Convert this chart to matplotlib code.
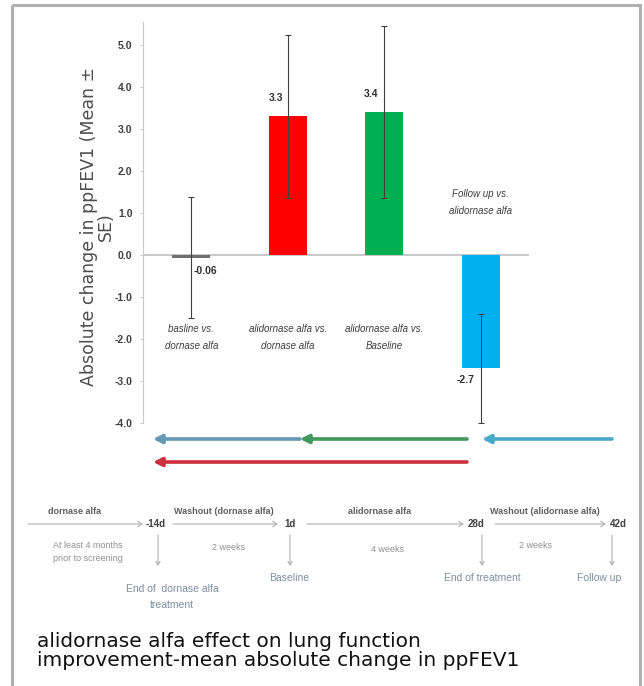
import matplotlib
matplotlib.use("Agg")
import matplotlib.pyplot as plt
from matplotlib.patches import Rectangle

# chart data
categories = ["basline vs.\ndornase alfa", "alidornase alfa vs.\ndornase alfa",
              "alidornase alfa vs.\nBaseline", "Follow up vs.\nalidornase alfa"]
mean_change = [-0.06, 3.3, 3.4, -2.7]
std_err = [1.45, 1.95, 2.05, 1.3]
value_labels = ["-0.06", "3.3", "3.4", "-2.7"]
bar_colors = ["#6f6f6f", "#ff0000", "#00b050", "#00b0f0"]
y_ticks = [5.0, 4.0, 3.0, 2.0, 1.0, 0.0, -1.0, -2.0, -3.0, -4.0]

# study timeline (diagram below the chart, pixel positions)
day_labels = ["-14d", "1d", "28d", "42d"]
day_x = [156, 290, 476, 618]
visit_labels = ["End of  dornase alfa\ntreatment", "Baseline", "End of treatment", "Follow up"]
period_labels = ["dornase alfa", "Washout (dornase alfa)", "alidornase alfa", "Washout (alidornase alfa)"]
period_x = [75, 224, 380, 545]
duration_labels = ["At least 4 months\nprior to screening", "2 weeks", "4 weeks", "2 weeks"]

# comparison arrows: (head x, tail x, y, colour)
comparison_arrows = [
    (153, 300, 439, "#6596b6"),
    (300, 467, 439, "#3f9a5c"),
    (482, 612, 439, "#4aa9c9"),
    (153, 467, 462, "#c9323c"),
]

small = ["Liberation Sans", "DejaVu Sans"]

W, H = 644, 686
fig = plt.figure(figsize=(W / 100, H / 100), dpi=100)
fig.patch.set_facecolor("white")

# overlay axes in pixel coordinates for frame, arrows, timeline and caption
ov = fig.add_axes([0, 0, 1, 1])
ov.set_xlim(0, W)
ov.set_ylim(H, 0)
ov.axis("off")
ov.add_patch(Rectangle((12, 5), 628, 690, fill=False, edgecolor="#b0b0b0", linewidth=2.2))

# bar chart
ax = fig.add_axes([143 / W, 1 - 423 / H, 386 / W, 401 / H])
x = list(range(len(categories)))
ax.bar(x, mean_change, width=0.39, color=bar_colors, zorder=2)
ax.errorbar(x, mean_change, yerr=std_err, fmt="none", ecolor="#404040",
            elinewidth=0.8, capsize=2, capthick=0.8, zorder=3)
ax.axhline(0, color="#bfbfbf", linewidth=1.2, zorder=1)
ax.set_xlim(-0.5, 3.5)
ax.set_ylim(-4.0, 5.55)
ax.set_yticks(y_ticks)
ax.set_yticklabels([f"{t:.1f}" for t in y_ticks], family=small,
                   fontsize=7.5, fontweight="bold", color="#404040")
ax.tick_params(axis="y", length=2.5, color="#c8c8c8", pad=5)
ax.set_xticks([])
for s in ["top", "right", "bottom"]:
    ax.spines[s].set_visible(False)
ax.spines["left"].set_color("#c8c8c8")
ax.set_ylabel("Absolute change in ppFEV1 (Mean \u00b1\nSE)", fontsize=12.5,
              color="#4d4d4d", linespacing=0.95)
ax.yaxis.set_label_coords(-0.072, 0.49)

offsets = [(14, -13), (-12, 18), (-13, 18), (-15, -12)]
for i, (v, lab) in enumerate(zip(mean_change, value_labels)):
    ax.annotate(lab, (i, v), xytext=offsets[i], textcoords="offset pixels",
                ha="center", va="center", family=small, fontsize=7.5,
                fontweight="bold", color="#303030")

label_y = [-1.97, -1.97, -1.97, 1.26]
for i, cat in enumerate(categories):
    ax.text(i, label_y[i], cat, ha="center", va="center", family=small,
            fontsize=7, style="italic", color="#404040", linespacing=1.9)

# comparison arrows
for head, tail, y, col in comparison_arrows:
    ov.annotate("", xy=(head, y), xytext=(tail, y),
                arrowprops=dict(arrowstyle="-|>,head_length=0.5,head_width=0.25",
                                color=col, lw=2.6, shrinkA=0, shrinkB=0))

# timeline
tl_y = 524
seg_start = [28, 173, 307, 495]
seg_end = [143, 278, 464, 606]
for s, e in zip(seg_start, seg_end):
    ov.annotate("", xy=(e, tl_y), xytext=(s, tl_y),
                arrowprops=dict(arrowstyle="->,head_length=0.3,head_width=0.2",
                                color="#b8b8b8", lw=0.9, shrinkA=0, shrinkB=0))
for lab, dx in zip(day_labels, day_x):
    ov.text(dx, tl_y, lab, ha="center", va="center", family=small,
            fontsize=7, fontweight="bold", color="#404040")
for lab, px in zip(period_labels, period_x):
    ov.text(px, tl_y - 12, lab, ha="center", va="center", family=small,
            fontsize=6.5, fontweight="bold", color="#606060")
dur_x = [53, 229, 388, 536]
dur_y = [552, 547, 549, 546]
dur_ha = ["left", "center", "center", "center"]
for lab, dx, dy, ha in zip(duration_labels, dur_x, dur_y, dur_ha):
    ov.text(dx, dy, lab, ha=ha, va="center", family=small,
            fontsize=6.5, color="#909090", linespacing=1.7)
visit_x = [172, 289, 482, 599]
visit_y = [597, 578, 578, 578]
arrow_x = [158, 290, 482, 612]
for lab, vx, vy, axx in zip(visit_labels, visit_x, visit_y, arrow_x):
    ov.annotate("", xy=(axx, 566), xytext=(axx, 535),
                arrowprops=dict(arrowstyle="->,head_length=0.25,head_width=0.15",
                                color="#b0b0b0", lw=0.8, shrinkA=0, shrinkB=0))
    ov.text(vx, vy, lab, ha="center", va="center", family=small,
            fontsize=7.5, color="#7d8ea3", linespacing=1.8)

# caption
ov.text(37, 651, "alidornase alfa effect on lung function\nimprovement-mean absolute change in ppFEV1",
        ha="left", va="center", fontsize=14.5, color="#111111", linespacing=1.05,
        family="DejaVu Sans")

fig.savefig("out.png", dpi=100, facecolor="white")
